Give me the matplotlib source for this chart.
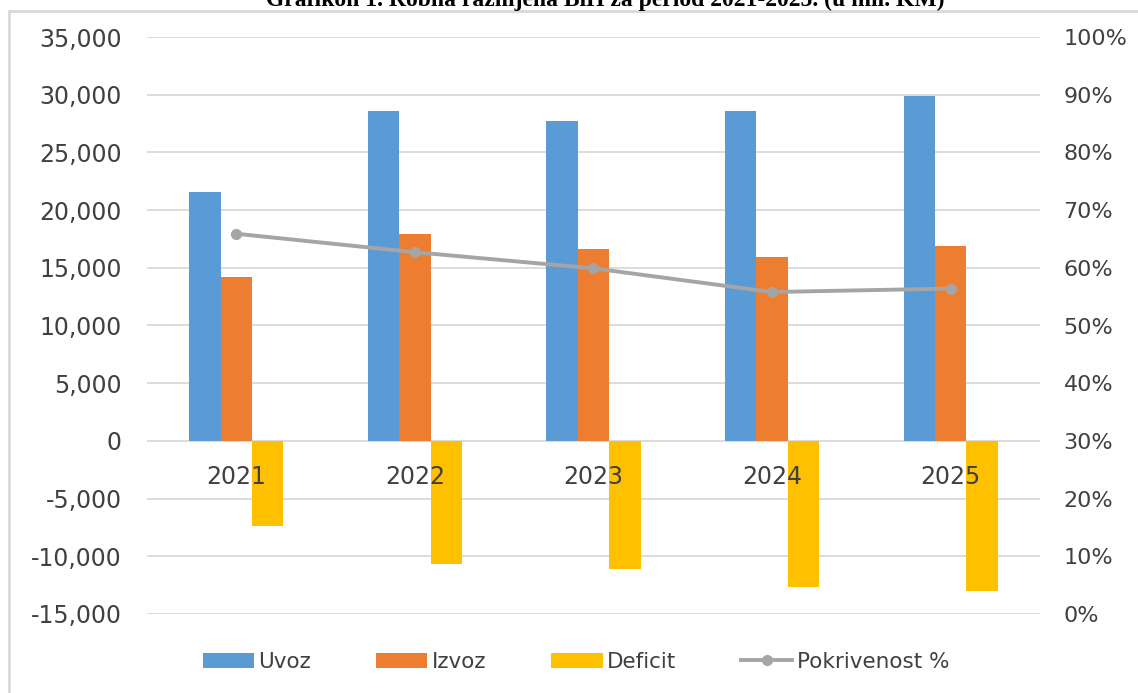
import numpy as np
import matplotlib
matplotlib.use("Agg")
import matplotlib.pyplot as plt
from matplotlib.ticker import FuncFormatter, PercentFormatter
from matplotlib.lines import Line2D

years = ["2021", "2022", "2023", "2024", "2025"]
uvoz = [21550, 28620, 27760, 28620, 29920]
izvoz = [14210, 17940, 16640, 15970, 16870]
deficit = [-7340, -10680, -11120, -12650, -13050]
pokrivenost = [65.9, 62.7, 59.9, 55.8, 56.4]

title = "Grafikon 1. Robna razmjena BiH za period 2021-2025. (u mil. KM)"

c_uvoz = "#5B9BD5"
c_izvoz = "#ED7D31"
c_deficit = "#FFC000"
c_line = "#A5A5A5"
c_text = "#404040"
c_grid = "#D9D9D9"

plt.rcParams["font.family"] = ["DejaVu Sans"]

fig = plt.figure(figsize=(11.38, 6.93), dpi=100)
ax = fig.add_axes([147 / 1138, 1 - 614 / 693, (1040 - 147) / 1138, (614 - 37) / 693])
ax2 = ax.twinx()

x = np.arange(len(years))
w = 0.176
ax.bar(x - w, uvoz, w, color=c_uvoz, label="Uvoz", zorder=2)
ax.bar(x, izvoz, w, color=c_izvoz, label="Izvoz", zorder=2)
ax.bar(x + w, deficit, w, color=c_deficit, label="Deficit", zorder=2)

ax2.plot(x, pokrivenost, color=c_line, lw=2.8, marker="o", markersize=7,
         label="Pokrivenost %", zorder=4)

ax.set_xlim(-0.5, len(years) - 0.5)
ax.set_ylim(-15000, 35000)
ax.set_yticks(np.arange(-15000, 35001, 5000))
ax.yaxis.set_major_formatter(FuncFormatter(lambda v, p: f"{v:,.0f}"))
ax.grid(axis="y", color=c_grid, lw=1.3)
ax.set_axisbelow(True)

ax2.set_ylim(0, 100)
ax2.set_yticks(np.arange(0, 101, 10))
ax2.yaxis.set_major_formatter(PercentFormatter(decimals=0))

for a in (ax, ax2):
    for s in a.spines.values():
        s.set_visible(False)

# year labels sit just under the zero line, drawn over the deficit bars
ax.spines["bottom"].set_position(("data", 0))
ax.set_xticks(x)
ax.set_xticklabels(years)
ax.xaxis.set_zorder(5)
ax.tick_params(axis="x", length=0, pad=17, labelsize=17, labelcolor=c_text)
ax.tick_params(axis="y", length=0, pad=18, labelsize=17, labelcolor=c_text)
ax2.tick_params(axis="y", length=0, pad=17, labelsize=16, labelcolor=c_text)
ax.set_zorder(ax2.get_zorder() - 1)
ax2.patch.set_visible(False)
ax.patch.set_visible(False)

h1, l1 = ax.get_legend_handles_labels()
h2, l2 = ax2.get_legend_handles_labels()
fig.legend(h1 + h2, l1 + l2, loc="center", bbox_to_anchor=(0.506, 1 - 662 / 693),
           ncol=4, frameon=False, fontsize=15.5, handlelength=2.4, handletextpad=0.2,
           columnspacing=3.0, labelcolor=c_text)

# chart frame (left and top border) and the title cut off at the top edge
fig.add_artist(Line2D([9 / 1138, 9 / 1138], [0, 1 - 11 / 693], transform=fig.transFigure,
                      color=c_grid, lw=2))
fig.add_artist(Line2D([9 / 1138, 1], [1 - 11 / 693, 1 - 11 / 693], transform=fig.transFigure,
                      color=c_grid, lw=2))
fig.text(605 / 1138, 1 - 6 / 693, title, ha="center", va="baseline",
         fontsize=17, fontweight="bold", family="Liberation Serif", color="black")

fig.savefig("out.png", dpi=100, facecolor="white")
